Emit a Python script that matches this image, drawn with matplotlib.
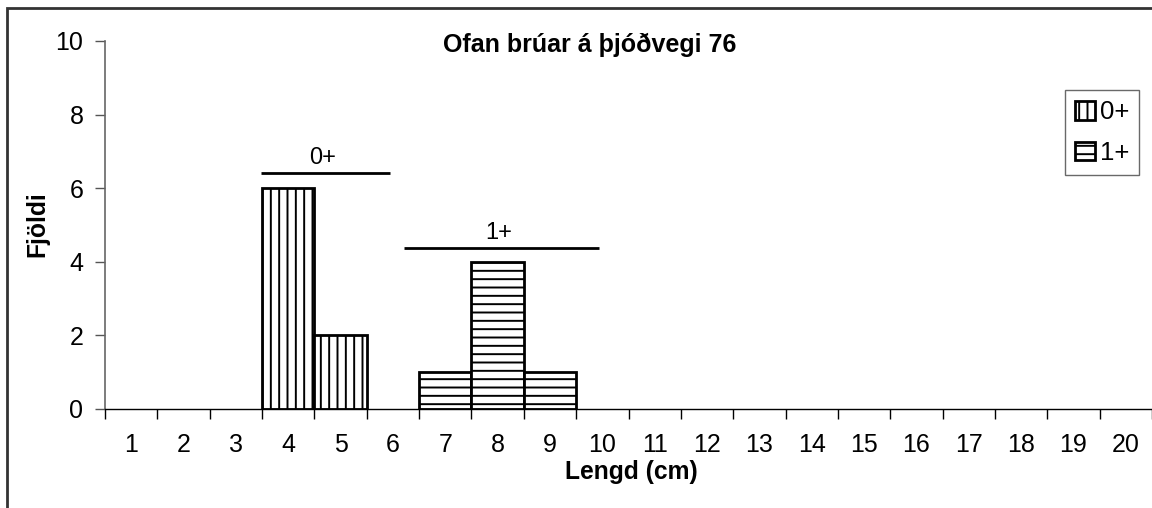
import matplotlib
matplotlib.use("Agg")
import matplotlib.pyplot as plt
from matplotlib.patches import Rectangle
import numpy as np

plt.rcParams['font.family'] = ['Liberation Sans', 'DejaVu Sans']
plt.rcParams['hatch.linewidth'] = 1.4

# data
lengths = list(range(1, 21))
count_0plus = [0, 0, 0, 6, 2, 0, 0, 0, 0, 0, 0, 0, 0, 0, 0, 0, 0, 0, 0, 0]
count_1plus = [0, 0, 0, 0, 0, 0, 1, 4, 1, 0, 0, 0, 0, 0, 0, 0, 0, 0, 0, 0]
group_labels = ["0+", "1+"]
group_spans = [(3.48, 5.95), (6.22, 9.93)]
group_levels = [6.4, 4.37]

fig = plt.figure(figsize=(11.52, 5.08), dpi=100)
ax = fig.add_axes([105 / 1152, 1 - 409 / 508, 1 - 105 / 1152, (409 - 41) / 508])

x = np.array(lengths)
for counts, hatch, lab in [(count_0plus, '||', '0+'), (count_1plus, '--', '1+')]:
    c = np.array(counts)
    keep = c > 0
    ax.bar(x[keep], c[keep], width=1.0, color='white', edgecolor='black',
           linewidth=2, hatch=hatch, label=lab)

for lab, (x0, x1), lvl in zip(group_labels, group_spans, group_levels):
    ax.plot([x0, x1], [lvl, lvl], color='black', lw=2, solid_capstyle='butt')
    ax.text((x0 + x1) / 2 - 0.05, lvl + 0.12, lab, ha='center', va='bottom', fontsize=17)

ax.set_xlim(0.5, 20.5)
ax.set_ylim(0, 10)
ax.set_yticks([0, 2, 4, 6, 8, 10])
ax.set_xticks(np.arange(0.5, 21, 1))
ax.set_xticklabels([])
ax.set_xticks(x, minor=True)
ax.set_xticklabels([str(v) for v in lengths], minor=True)
ax.tick_params(axis='x', which='major', length=7, width=1, direction='out', color='black')
ax.tick_params(axis='x', which='minor', length=0, pad=17.5, labelsize=18)
ax.tick_params(axis='y', length=7, width=1, direction='out', color='#555555', pad=8.5, labelsize=18)

for s in ['top', 'right']:
    ax.spines[s].set_visible(False)
ax.spines['left'].set_color('#666666')
ax.spines['left'].set_linewidth(1.2)
ax.spines['bottom'].set_color('black')
ax.spines['bottom'].set_linewidth(1)

fig.text(590 / 1152, 1 - 45 / 508, "Ofan brúar á þjóðvegi 76", ha='center', va='center',
         fontsize=18, fontweight='bold')
fig.text(631 / 1152, 1 - 472 / 508, "Lengd (cm)", ha='center', va='center',
         fontsize=17.7, fontweight='bold')
fig.text(37 / 1152, 1 - 224 / 508, "Fjöldi", ha='center', va='center', rotation=90,
         fontsize=17.7, fontweight='bold')

leg = ax.legend(loc='upper left', bbox_to_anchor=(1065 / 1152, 1 - 90 / 508),
                bbox_transform=fig.transFigure, fontsize=18.5, frameon=True, fancybox=False,
                handlelength=0.75, handleheight=0.75, handletextpad=0.2, borderpad=0.4,
                labelspacing=0.65, borderaxespad=0)
leg.get_frame().set_edgecolor('#444444')
leg.get_frame().set_linewidth(1)

fig.patches.append(Rectangle((7 / 1152, -0.1), 1.2, 1 - 8 / 508 + 0.1,
                             transform=fig.transFigure, fill=False,
                             edgecolor='#333333', linewidth=2))

fig.savefig("out.png", dpi=100)
